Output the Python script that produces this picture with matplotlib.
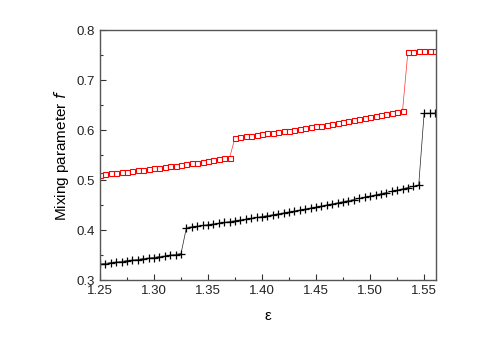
import matplotlib
matplotlib.use('Agg')
import matplotlib.pyplot as plt
from matplotlib.ticker import MultipleLocator

plt.rcParams['font.family'] = ['Liberation Sans', 'DejaVu Sans']

# epsilon grid (step 0.005)
eps = [1.250, 1.255, 1.260, 1.265, 1.270, 1.275, 1.280, 1.285, 1.290, 1.295,
       1.300, 1.305, 1.310, 1.315, 1.320, 1.325, 1.330, 1.335, 1.340, 1.345,
       1.350, 1.355, 1.360, 1.365, 1.370, 1.375, 1.380, 1.385, 1.390, 1.395,
       1.400, 1.405, 1.410, 1.415, 1.420, 1.425, 1.430, 1.435, 1.440, 1.445,
       1.450, 1.455, 1.460, 1.465, 1.470, 1.475, 1.480, 1.485, 1.490, 1.495,
       1.500, 1.505, 1.510, 1.515, 1.520, 1.525, 1.530, 1.535, 1.540, 1.545,
       1.550, 1.555, 1.560]

# upper (red squares)
f_red = [0.5110, 0.5121, 0.5132, 0.5144, 0.5155, 0.5168, 0.5180, 0.5193, 0.5206, 0.5219,
         0.5232, 0.5246, 0.5260, 0.5274, 0.5289, 0.5304, 0.5319, 0.5334, 0.5350, 0.5366,
         0.5382, 0.5399, 0.5416, 0.5433, 0.5450,
         0.5850, 0.5863, 0.5876, 0.5889, 0.5903, 0.5917, 0.5931, 0.5945, 0.5960, 0.5975,
         0.5990, 0.6006, 0.6022, 0.6038, 0.6055, 0.6071, 0.6089, 0.6106, 0.6124, 0.6142,
         0.6160, 0.6178, 0.6197, 0.6216, 0.6236, 0.6256, 0.6276, 0.6296, 0.6316, 0.6337,
         0.6359, 0.6380,
         0.7570, 0.7570, 0.7572, 0.7575, 0.7576, 0.7577]

# lower (black crosses)
f_black = [0.332, 0.333, 0.335, 0.336, 0.337, 0.339, 0.340, 0.341, 0.343, 0.344,
           0.345, 0.347, 0.348, 0.350, 0.351, 0.353,
           0.4050, 0.4064, 0.4078, 0.4092, 0.4107, 0.4122, 0.4137, 0.4153, 0.4169, 0.4185,
           0.4201, 0.4218, 0.4235, 0.4252, 0.4270, 0.4287, 0.4306, 0.4324, 0.4343, 0.4361,
           0.4381, 0.4400, 0.4420, 0.4440, 0.4460, 0.4481, 0.4502, 0.4523, 0.4544, 0.4566,
           0.4588, 0.4610, 0.4633, 0.4656, 0.4679, 0.4702, 0.4726, 0.4750, 0.4774, 0.4799,
           0.4824, 0.4849, 0.4874, 0.4900,
           0.6335, 0.6337, 0.6338]

fig = plt.figure(figsize=(4.91, 3.39), dpi=100)
ax = fig.add_axes([0.2037, 0.174, 0.6843, 0.7375])

ax.plot(eps, f_red, color='#ff3030', lw=0.5, marker='s', ms=3.6, mfc='white',
        mec='red', mew=0.8)
ax.plot(eps, f_black, color='#222222', lw=0.5, marker='+', ms=5.5,
        mew=0.9, mec='black')

ax.set_xlim(1.25, 1.561)
ax.set_ylim(0.3, 0.8)
ax.xaxis.set_major_locator(MultipleLocator(0.05))
ax.xaxis.set_minor_locator(MultipleLocator(0.025))
ax.yaxis.set_major_locator(MultipleLocator(0.1))
ax.yaxis.set_minor_locator(MultipleLocator(0.05))
ax.xaxis.set_major_formatter(plt.FormatStrFormatter('%.2f'))
ax.yaxis.set_major_formatter(plt.FormatStrFormatter('%.1f'))

ax.tick_params(which='both', direction='in', top=False, right=False,
               labelsize=9.5, colors='#333333', labelcolor='#222222')
ax.tick_params(which='major', length=4, width=0.8)
ax.tick_params(which='minor', length=2.5, width=0.8)
for sp in ax.spines.values():
    sp.set_color('#555555')
    sp.set_linewidth(1.0)

ax.set_ylabel('Mixing parameter $\\mathit{f}$', fontsize=11, labelpad=4)
ax.set_xlabel('ε', fontsize=11, labelpad=9)

fig.savefig('out.png', dpi=100, facecolor='white')
